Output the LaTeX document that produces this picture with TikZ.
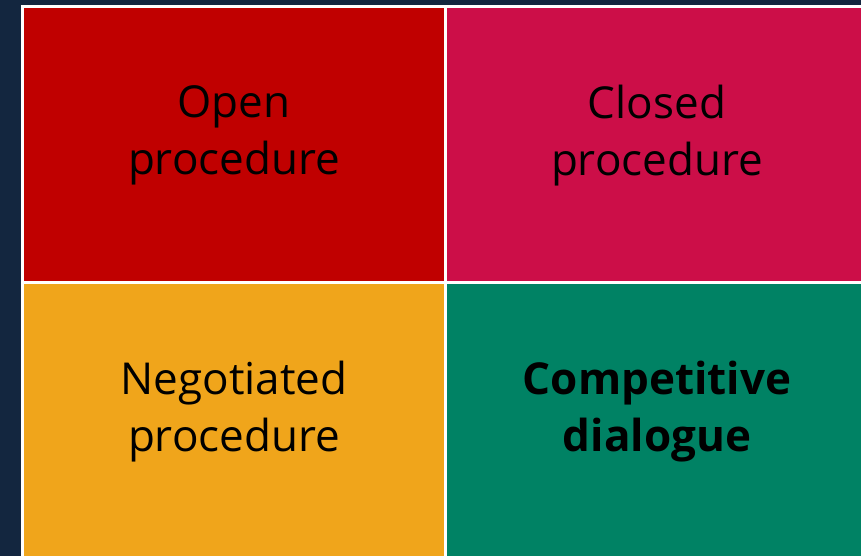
\documentclass[tikz,border=0pt]{standalone}
\usepackage{fontspec}
\setmainfont{Open Sans}
\usetikzlibrary{positioning}

\definecolor{navyback}{HTML}{13263F}
\definecolor{openred}{HTML}{C00000}
\definecolor{closedred}{HTML}{CC0E48}
\definecolor{negorange}{HTML}{F0A51B}
\definecolor{dialoggreen}{HTML}{008264}

\begin{document}
\begin{tikzpicture}[x=1pt, y=1pt]

   % Set up styles for the cells
  \tikzset{
      cell/.style={draw=white, line width=3pt, outer sep=0pt, inner sep=0pt,
                   minimum width=423pt, minimum height=276pt, anchor=north west},
      caption/.style={align=center, text=black, font=\fontsize{44}{57}\selectfont}
  }

  \fill[navyback] (0, 0) rectangle (861, -556);  % background
  \useasboundingbox (0, 0) rectangle (861, -556);

  % the 2x2 grid of procedures
  \node[cell, fill=openred] (open) at (22.5, -6.5) {};
  \node[cell, fill=closedred] (closed) at (open.north east) {};
  \node[cell, fill=negorange] (negotiated) at (open.south west) {};
  \node[cell, fill=dialoggreen] (dialogue) at (open.south east) {};

  % texts, a bit above the middle of each cell
  \node[caption] (opentext) at ([yshift=9]open.center) {Open\\procedure};
  \node[caption] (closedtext) at ([yshift=9]closed.center) {Closed\\procedure};
  \node[caption] (negotiatedtext) at ([yshift=9]negotiated.center) {Negotiated\\procedure};
  \node[caption, font=\fontsize{44}{57}\selectfont\bfseries] (dialoguetext) at ([yshift=9]dialogue.center) {Competitive\\dialogue};

\end{tikzpicture}
\end{document}
